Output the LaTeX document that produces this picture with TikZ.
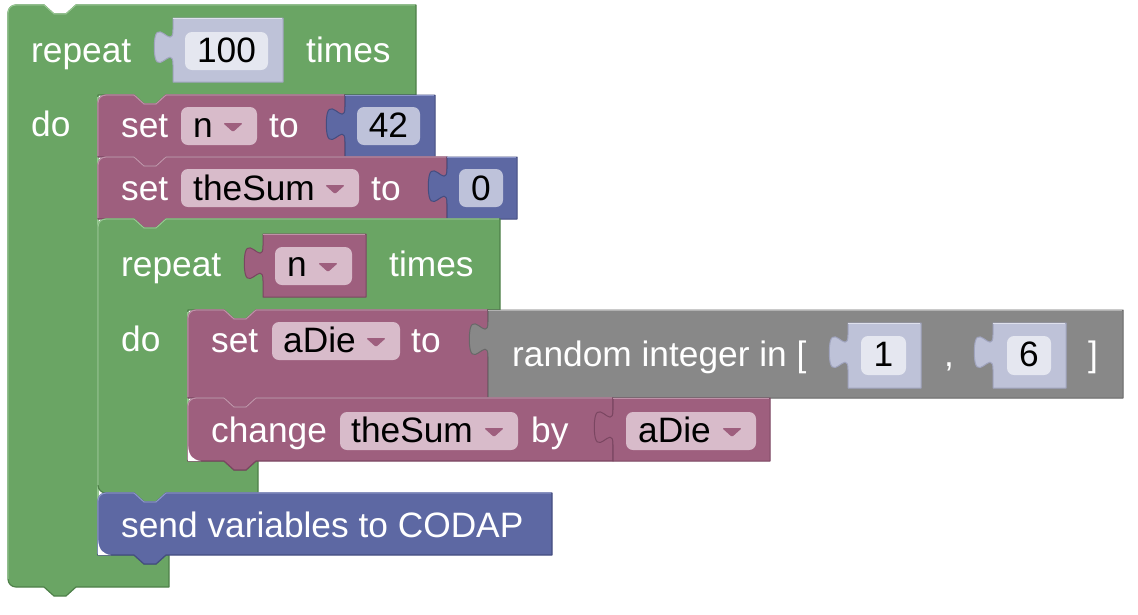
\documentclass[tikz,border=0pt]{standalone}
\usepackage{fontspec}
\setmainfont{Liberation Sans}

% block colours: fill, edge shade, highlight
\definecolor{grn}{RGB}{106,165,100}
\definecolor{grndark}{RGB}{78,128,73}
\definecolor{grnlight}{RGB}{150,200,145}
\definecolor{pur}{RGB}{158,95,126}
\definecolor{purdark}{RGB}{122,70,97}
\definecolor{purlight}{RGB}{192,145,168}
\definecolor{blu}{RGB}{93,104,163}
\definecolor{bludark}{RGB}{68,77,128}
\definecolor{blulight}{RGB}{140,150,202}
\definecolor{gry}{RGB}{136,136,136}
\definecolor{grydark}{RGB}{104,104,104}
\definecolor{grylight}{RGB}{178,178,178}
\definecolor{shd}{RGB}{190,194,216}
\definecolor{shddark}{RGB}{160,164,190}
\definecolor{shdlight}{RGB}{222,224,236}
% editable fields
\definecolor{shdfield}{RGB}{229,231,240}
\definecolor{blufield}{RGB}{190,194,218}
\definecolor{purfield}{RGB}{216,187,202}

% statement block: left, top, right, bottom, colour
\newcommand\stmtblock[5]{%
  \filldraw[fill=#5, draw=#5dark, line width=1.2pt, line join=round]
    (#1,{#2+8}) .. controls (#1,{#2+3.5}) and ({#1+3.5},#2) .. ({#1+8},#2)
    -- ({#1+36},#2) -- ({#1+46},{#2+9}) -- ({#1+58},{#2+9}) -- ({#1+68},#2)
    -- (#3,#2) -- (#3,#4)
    -- ({#1+68},#4) -- ({#1+58},{#4+9}) -- ({#1+46},{#4+9}) -- ({#1+36},#4)
    -- (#1,#4) -- cycle;
  \draw[#5light, line width=1.2pt, line join=round]
    (#1,{#4-1}) -- (#1,{#2+8}) .. controls (#1,{#2+3.5}) and ({#1+3.5},#2) .. ({#1+8},#2)
    -- ({#1+36},#2) -- ({#1+46},{#2+9}) -- ({#1+58},{#2+9}) -- ({#1+68},#2)
    -- ({#3-1},#2);
}

% value block with its puzzle tab on the left: left, top, right, bottom, colour
\newcommand\valblock[5]{%
  \filldraw[fill=#5, draw=#5dark, line width=1pt, line join=round]
    (#1,{#2+11.67}) .. controls (#1,{#2+35}) and ({#1-18.67},{#2-7}) .. ({#1-18.67},{#2+29.17})
    .. controls ({#1-18.67},{#2+65.33}) and (#1,{#2+23.33}) .. (#1,{#2+46.67})
    -- (#1,#4) -- (#3,#4) -- (#3,#2) -- (#1,#2) -- cycle;
  \draw[#5light, line width=1pt] (#1,#2) -- ({#3-1},#2);
}

% C-shaped loop block: left, top, right, row bottom, arm x, arm bottom, bottom, bottom right
\newcommand\cblock[8]{%
  \filldraw[fill=grn, draw=grndark, line width=1.2pt, line join=round]
    (#1,{#2+8}) .. controls (#1,{#2+3.5}) and ({#1+3.5},#2) .. ({#1+8},#2)
    -- ({#1+36},#2) -- ({#1+46},{#2+9}) -- ({#1+58},{#2+9}) -- ({#1+68},#2)
    -- (#3,#2) -- (#3,#4)
    -- ({#5+68},#4) -- ({#5+58},{#4+9}) -- ({#5+46},{#4+9}) -- ({#5+36},#4)
    -- (#5,#4) -- (#5,#6)
    -- ({#5+36},#6) -- ({#5+46},{#6+9}) -- ({#5+58},{#6+9}) -- ({#5+68},#6)
    -- (#8,#6) -- (#8,#7)
    -- ({#1+68},#7) -- ({#1+58},{#7+9}) -- ({#1+46},{#7+9}) -- ({#1+36},#7)
    -- ({#1+8},#7) .. controls ({#1+3.5},#7) and (#1,{#7-3.5}) .. (#1,{#7-8}) -- cycle;
  \draw[grnlight, line width=1.2pt, line join=round]
    (#1,{#7-8}) -- (#1,{#2+8}) .. controls (#1,{#2+3.5}) and ({#1+3.5},#2) .. ({#1+8},#2)
    -- ({#1+36},#2) -- ({#1+46},{#2+9}) -- ({#1+58},{#2+9}) -- ({#1+68},#2)
    -- ({#3-1},#2);
  \draw[grnlight, line width=1.2pt] (#5,{#4+2}) -- (#5,{#6-2});
}

% rounded field: x1, y1, x2, y2, colour
\newcommand\fieldbox[5]{\fill[#5, rounded corners=7pt] (#1,#2) rectangle (#3,#4);}
% dropdown arrow: left x, field centre y
\newcommand\ddarrow[2]{\fill[pur, rounded corners=1.5pt] (#1,{#2-3}) -- ({#1+20},{#2-3}) -- ({#1+10},{#2+6}) -- cycle;}
% bright inner corner below the last block of a loop body
\newcommand\innercorner[2]{\fill[white] (#1,{#2-15}) .. controls ({#1+1},{#2-5}) and ({#1+5},{#2-1}) .. ({#1+13},#2) -- (#1,#2) -- cycle;}

\tikzset{
  wtxt/.style={text=white, anchor=base west, inner sep=0pt, font=\fontsize{35.3}{42}\selectfont},
  ftxt/.style={text=black, anchor=base west, inner sep=0pt, font=\fontsize{35.3}{42}\selectfont},
  ctxt/.style={text=black, anchor=base, inner sep=0pt, font=\fontsize{35.3}{42}\selectfont},
}

\begin{document}
\begin{tikzpicture}[x=1pt, y=-1pt]
\useasboundingbox (0,0) rectangle (1138,614);

% outer loop
\cblock{8}{5}{416}{95}{98}{555}{587}{169}
\valblock{173}{18}{283}{82}{shd}
\fieldbox{185}{32}{268}{70}{shdfield}

% set n to 42
\stmtblock{98}{95}{345}{157}{pur}
\valblock{345}{95}{435}{157}{blu}
\fieldbox{181}{107}{257}{145}{purfield}
\ddarrow{223}{126}
\fieldbox{357}{107}{420}{145}{blufield}

% set theSum to 0
\stmtblock{98}{157}{447}{219}{pur}
\valblock{447}{157}{517}{219}{blu}
\fieldbox{181}{169}{359}{207}{purfield}
\ddarrow{325}{188}
\fieldbox{459}{169}{503}{207}{blufield}

% inner loop
\cblock{98}{219}{500}{310}{188}{461}{493}{258}
\valblock{263}{234}{366}{297}{pur}
\fieldbox{275}{247}{352}{285}{purfield}
\ddarrow{318}{266}

% set aDie to random integer
\stmtblock{188}{310}{488}{398}{pur}
\fieldbox{272}{322}{400}{360}{purfield}
\ddarrow{366}{341}
\valblock{488}{310}{1123}{398}{gry}
\valblock{848}{323}{921}{388}{shd}
\fieldbox{861}{336}{906}{375}{shdfield}
\valblock{993}{323}{1066}{388}{shd}
\fieldbox{1007}{336}{1051}{375}{shdfield}

% change theSum by aDie
\stmtblock{188}{398}{613}{461}{pur}
\fieldbox{340}{412}{518}{450}{purfield}
\ddarrow{484}{431}
\valblock{613}{398}{770}{461}{pur}
\fieldbox{626}{412}{756}{450}{purfield}
\ddarrow{722}{431}
\innercorner{188}{461}

% send to CODAP
\stmtblock{98}{493}{552}{555}{blu}
\innercorner{98}{555}

% labels
\node[wtxt] (repA) at (31,62) {repeat};
\node[ctxt] (hundred) at (226.5,62) {100};
\node[wtxt] (timesA) at (306,62) {times};
\node[wtxt] (doA) at (31,136) {do};

\node[wtxt] (setN) at (121,137) {set};
\node[ftxt] (varN) at (193,137) {n};
\node[wtxt] (toN) at (269,137) {to};
\node[ctxt] (fortytwo) at (388.5,137) {42};

\node[wtxt] (setS) at (121,200) {set};
\node[ftxt] (varS) at (193,200) {theSum};
\node[wtxt] (toS) at (371,200) {to};
\node[ctxt] (zero) at (481,200) {0};

\node[wtxt] (repB) at (121,276) {repeat};
\node[ftxt] (varNB) at (287,276) {n};
\node[wtxt] (timesB) at (389,276) {times};
\node[wtxt] (doB) at (121,351) {do};

\node[wtxt] (setD) at (211,352) {set};
\node[ftxt] (varD) at (283,352) {aDie};
\node[wtxt] (toD) at (411,352) {to};
\node[wtxt] (rnd) at (512,366) {random integer in [};
\node[ctxt] (one) at (883.5,366) {1};
\node[wtxt] (comma) at (944,366) {,};
\node[ctxt] (six) at (1029,366) {6};
\node[wtxt] (rbr) at (1088,366) {]};

\node[wtxt] (chg) at (211,442) {change};
\node[ftxt] (varC) at (351,442) {theSum};
\node[wtxt] (by) at (531,442) {by};
\node[ftxt] (varC2) at (638,442) {aDie};

\node[wtxt] (send) at (121,537) {send variables to CODAP};
\end{tikzpicture}
\end{document}
